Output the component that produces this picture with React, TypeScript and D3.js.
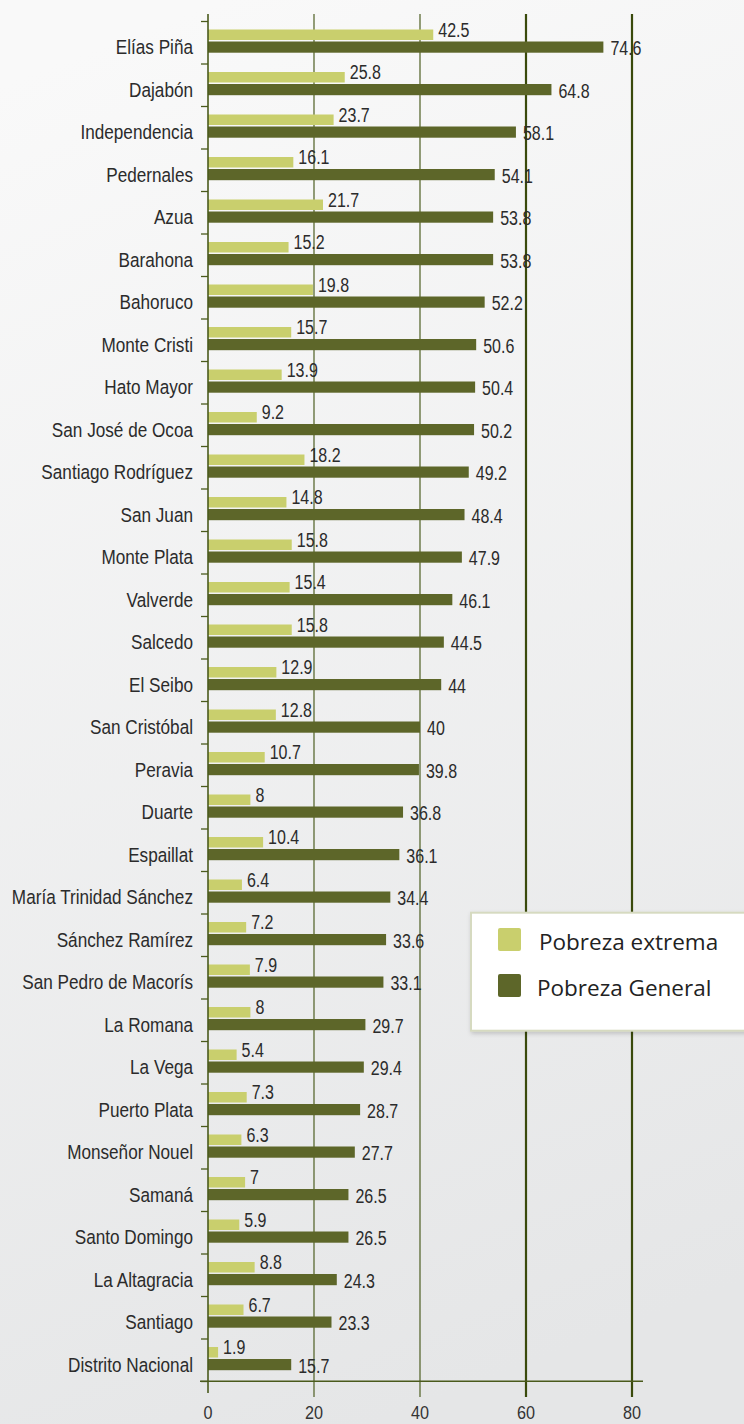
import React, { useEffect, useRef } from "react";
import * as d3 from "d3";

// provinces, top to bottom
const provincias = [
  "Elías Piña", "Dajabón", "Independencia", "Pedernales", "Azua", "Barahona",
  "Bahoruco", "Monte Cristi", "Hato Mayor", "San José de Ocoa", "Santiago Rodríguez",
  "San Juan", "Monte Plata", "Valverde", "Salcedo", "El Seibo", "San Cristóbal",
  "Peravia", "Duarte", "Espaillat", "María Trinidad Sánchez", "Sánchez Ramírez",
  "San Pedro de Macorís", "La Romana", "La Vega", "Puerto Plata", "Monseñor Nouel",
  "Samaná", "Santo Domingo", "La Altagracia", "Santiago", "Distrito Nacional"
];

const pobrezaExtrema = [
  42.5, 25.8, 23.7, 16.1, 21.7, 15.2, 19.8, 15.7, 13.9, 9.2, 18.2, 14.8, 15.8, 15.4,
  15.8, 12.9, 12.8, 10.7, 8, 10.4, 6.4, 7.2, 7.9, 8, 5.4, 7.3, 6.3, 7, 5.9, 8.8, 6.7, 1.9
];

const pobrezaGeneral = [
  74.6, 64.8, 58.1, 54.1, 53.8, 53.8, 52.2, 50.6, 50.4, 50.2, 49.2, 48.4, 47.9, 46.1,
  44.5, 44, 40, 39.8, 36.8, 36.1, 34.4, 33.6, 33.1, 29.7, 29.4, 28.7, 27.7, 26.5, 26.5,
  24.3, 23.3, 15.7
];

const ticksX = [0, 20, 40, 60, 80];

const leyenda = ["Pobreza extrema", "Pobreza General"];

const CLARO = "#c9cf6d";
const OSCURO = "#5d6629";
const EJE = "#4a5a1c";
const FUENTE = "'Liberation Sans', Arial, sans-serif";
const ANGOSTO = 0.8; // no narrow font installed: squeeze horizontally
const ANGOSTO_CAT = 0.88;

function App() {
  const ref = useRef<SVGSVGElement>(null);

  useEffect(() => {
    const width = 744;
    const height = 1424;

    d3.select(ref.current).selectAll("*").remove();
    const svg = d3.select(ref.current).attr("width", width).attr("height", height);

    // fondo
    const defs = svg.append("defs");
    const grad = defs
      .append("linearGradient")
      .attr("id", "fondo")
      .attr("x1", "0.3").attr("y1", "0")
      .attr("x2", "0.5").attr("y2", "1");
    grad.append("stop").attr("offset", "0").attr("stop-color", "#f9f9f9");
    grad.append("stop").attr("offset", "1").attr("stop-color", "#e5e6e7");
    const sombra = defs.append("filter").attr("id", "sombra")
      .attr("x", "-10%").attr("y", "-10%").attr("width", "130%").attr("height", "130%");
    sombra.append("feDropShadow")
      .attr("dx", 1).attr("dy", 2).attr("stdDeviation", 2)
      .attr("flood-color", "#000").attr("flood-opacity", 0.18);

    svg.append("rect").attr("width", width).attr("height", height).attr("fill", "url(#fondo)");

    const x = d3.scaleLinear().domain([0, 80]).range([208, 632]);
    const y = d3.scaleBand().domain(provincias).range([21.5, 1381.5]).paddingInner(0);

    // lineas de division
    svg
      .append("g")
      .selectAll("line")
      .data(ticksX.slice(1))
      .join("line")
      .attr("x1", d => x(d)).attr("x2", d => x(d))
      .attr("y1", 14).attr("y2", 1397)
      .attr("stroke", d => (d >= 60 ? "#3a4a0c" : "#4e5e22"))
      .attr("stroke-width", d => (d >= 60 ? 2.2 : 1.2));

    // barras
    const filas = provincias.map((p, i) => ({ p, ext: pobrezaExtrema[i], gen: pobrezaGeneral[i] }));

    svg
      .append("g")
      .selectAll("rect")
      .data(filas)
      .join("rect")
      .attr("x", x(0))
      .attr("y", d => y(d.p)! + 8)
      .attr("width", d => x(d.ext) - x(0))
      .attr("height", 10.5)
      .attr("fill", CLARO);

    svg
      .append("g")
      .selectAll("rect")
      .data(filas)
      .join("rect")
      .attr("x", x(0))
      .attr("y", d => y(d.p)! + 20)
      .attr("height", 11.2)
      .attr("width", d => x(d.gen) - x(0))
      .attr("fill", OSCURO);

    // eje Y
    svg.append("line")
      .attr("x1", x(0)).attr("x2", x(0))
      .attr("y1", 14).attr("y2", 1393)
      .attr("stroke", EJE).attr("stroke-width", 1.6);

    const bordes = provincias.map(p => y(p)!).concat([y.range()[1]]);
    svg
      .append("g")
      .selectAll("line")
      .data(bordes)
      .join("line")
      .attr("x1", x(0) - 7).attr("x2", x(0))
      .attr("y1", d => d).attr("y2", d => d)
      .attr("stroke", EJE).attr("stroke-width", 1.3);

    // eje X
    svg.append("line")
      .attr("x1", 200).attr("x2", 643)
      .attr("y1", 1381.3).attr("y2", 1381.3)
      .attr("stroke", EJE).attr("stroke-width", 1.6);

    svg
      .append("g")
      .selectAll("text")
      .data(ticksX)
      .join("text")
      .attr("transform", d => `translate(${x(d)},1419) scale(0.9,1)`)
      .attr("text-anchor", "middle")
      .attr("fill", "#333")
      .style("font-family", FUENTE)
      .style("font-size", "18px")
      .text(d => d);

    // categorias
    svg
      .append("g")
      .selectAll("text")
      .data(provincias)
      .join("text")
      .attr("transform", d => `translate(193,${y(d)! + 32.5}) scale(${ANGOSTO_CAT},1)`)
      .attr("text-anchor", "end")
      .attr("fill", "#2b2b2b")
      .style("font-family", FUENTE)
      .style("font-size", "19.5px")
      .text(d => d);

    // etiquetas de valor
    svg
      .append("g")
      .selectAll("text")
      .data(filas)
      .join("text")
      .attr("transform", d => `translate(${x(d.ext) + 5},${y(d.p)! + 15.2}) scale(${ANGOSTO},1)`)
      .attr("fill", "#2b2b2b")
      .style("font-family", FUENTE)
      .style("font-size", "20px")
      .text(d => d.ext);

    svg
      .append("g")
      .selectAll("text")
      .data(filas)
      .join("text")
      .attr("transform", d => `translate(${x(d.gen) + 7},${y(d.p)! + 33.5}) scale(${ANGOSTO},1)`)
      .attr("fill", "#2b2b2b")
      .style("font-family", FUENTE)
      .style("font-size", "20px")
      .text(d => d.gen);

    // leyenda
    const ley = svg.append("g");
    ley.append("rect")
      .attr("x", 471).attr("y", 912.7)
      .attr("width", 290).attr("height", 118)
      .attr("fill", "#fff")
      .attr("stroke", "#d6dac0").attr("stroke-width", 2)
      .attr("filter", "url(#sombra)");

    const items = ley
      .selectAll("g")
      .data(leyenda)
      .join("g")
      .attr("transform", (d, i) => `translate(498,${928 + i * 46})`);

    items.append("rect")
      .attr("width", 23).attr("height", 23).attr("rx", 2)
      .attr("fill", (d, i) => (i === 0 ? CLARO : OSCURO));

    items.append("text")
      .attr("x", (d, i) => (i === 0 ? 41 : 39))
      .attr("y", 22)
      .attr("fill", "#222")
      .style("font-family", "'Open Sans', sans-serif")
      .style("font-size", "22.5px")
      .text(d => d);
  }, []);

  return <svg ref={ref} style={{ position: "absolute", left: 0, top: 0 }}></svg>;
}

export default App;
